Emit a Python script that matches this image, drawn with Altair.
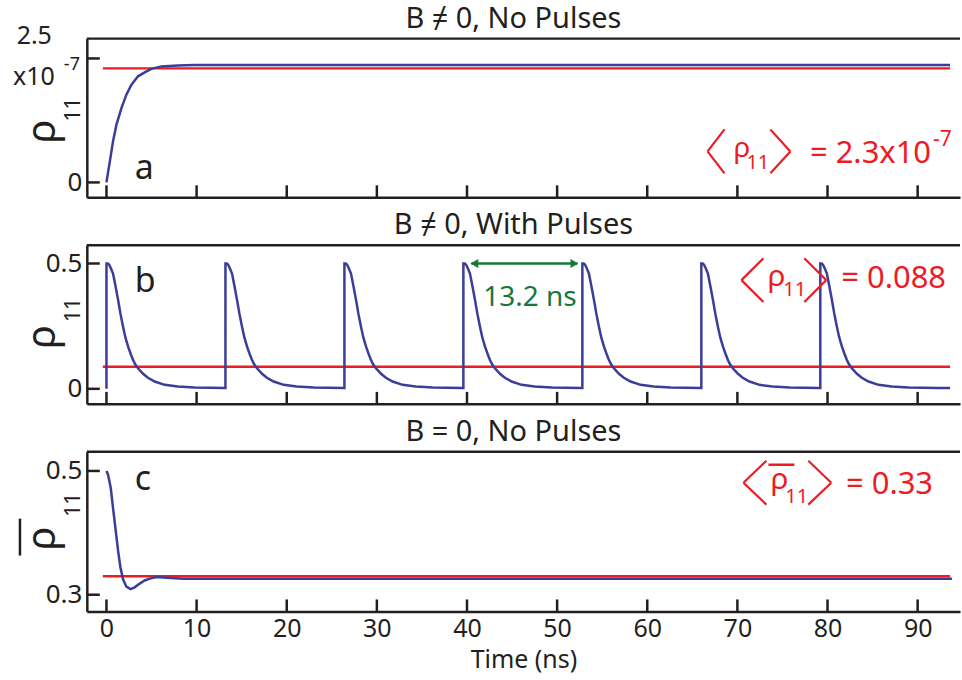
import altair as alt
import pandas as pd

FONT = "Noto Sans"
BLUE = "#3b3d98"
RED = "#ed1c24"
GREEN = "#16773a"
INK = "#231f20"

# plot-area geometry of the three stacked panels
W = 875
H_A, H_B, H_C = 159, 159, 160
GAP = 48
X_MIN, X_MAX = -2.18, 94.7

time_ticks = [0, 10, 20, 30, 40, 50, 60, 70, 80, 90]

# Panel a: B != 0, no pulses (rho_11 in units of 1e-7)
t_a = [0, 0.18, 0.37, 0.73, 1.1, 1.66, 2.21, 2.77, 3.5, 4.24, 4.98, 6.09, 7.9, 9.8, 93.6]
rho_a = [0, 0.21, 0.42, 0.83, 1.16, 1.50, 1.77, 1.97, 2.14, 2.22, 2.29, 2.34, 2.36, 2.37, 2.37]
mean_a = 2.3

# Panel b: B != 0, with pulses -- one decay after every pulse
pulse_starts = [0, 13.2, 26.4, 39.6, 52.8, 66.0, 79.2]
decay_dt = [0, 0.15, 0.3, 0.5, 0.73, 1.0, 1.29, 1.55, 1.84, 2.1, 2.4, 2.7, 2.95, 3.2, 3.5,
            4.06, 4.6, 5.35, 6.46, 7.9, 9.8, 13.1]
decay_rho = [0.5, 0.5, 0.495, 0.48, 0.46, 0.41, 0.354, 0.30, 0.248, 0.205, 0.168, 0.138,
             0.115, 0.097, 0.082, 0.060, 0.044, 0.029, 0.016, 0.009, 0.005, 0.003]
t_end_b = 93.6
mean_b = 0.088

# Panel c: B = 0, no pulses (time-averaged rho_11)
t_c = [0, 0.18, 0.48, 0.73, 1.03, 1.29, 1.55, 1.84, 2.21, 2.66, 3.13, 3.69, 4.24, 4.8,
       5.54, 6.64, 8.5, 93.8]
rho_c = [0.5, 0.494, 0.472, 0.440, 0.403, 0.371, 0.344, 0.325, 0.313, 0.309, 0.312, 0.318,
         0.323, 0.326, 0.3285, 0.3275, 0.326, 0.326]
mean_c = 0.33

mean_span = [-0.4, 93.6]

y_dom_a = [-0.30, 2.90]
y_dom_b = [-0.06, 0.573]
y_dom_c = [0.273, 0.531]


def pulse_train():
    rows = []
    last = len(pulse_starts) - 1
    for i, s in enumerate(pulse_starts):
        nxt = pulse_starts[i + 1] if i < last else t_end_b
        rows.append((s, 0.0 if i == 0 else decay_rho[-1]))
        for dt, v in zip(decay_dt, decay_rho):
            if s + dt < nxt:
                rows.append((s + dt, v))
        if i == last:
            rows.append((t_end_b, decay_rho[-1]))
    return pd.DataFrame({"t": [r[0] for r in rows], "rho": [r[1] for r in rows],
                         "i": list(range(len(rows)))})


def series(ts, vs):
    return pd.DataFrame({"t": ts, "rho": vs, "i": list(range(len(ts)))})


ONE = pd.DataFrame({"k": [0]})


def txt(s, x, y, size, color=INK, align="left", baseline="alphabetic", angle=0,
        font=FONT, weight="normal"):
    return alt.Chart(ONE).mark_text(
        text=s, fontSize=size, color=color, align=align, baseline=baseline,
        angle=angle, font=font, fontWeight=weight,
    ).encode(x=alt.value(x), y=alt.value(y))


def stroke(x1, y1, x2, y2, color=RED, width=2.2):
    return alt.Chart(ONE).mark_rule(color=color, strokeWidth=width).encode(
        x=alt.value(x1), y=alt.value(y1), x2=alt.value(x2), y2=alt.value(y2))


def angle_brackets(left_tip, left_arm, right_arm, right_tip, yc, half=22):
    """Thin angle brackets around the averaged quantity."""
    return [stroke(left_arm, yc - half, left_tip, yc), stroke(left_tip, yc, left_arm, yc + half),
            stroke(right_arm, yc - half, right_tip, yc), stroke(right_tip, yc, right_arm, yc + half)]


def panel(line_df, mean, y_dom, y_ticks, y_labels, h, title, show_time, extras):
    if show_time:
        x_axis = alt.Axis(values=time_ticks, ticks=False, grid=False, title="Time (ns)",
                          labelFontSize=25, labelFont=FONT, labelColor=INK, labelPadding=5,
                          labelFlush=False, titleFontSize=25, titleFont=FONT,
                          titleFontWeight="normal", titleColor=INK, titlePadding=6,
                          domainColor=INK, domainWidth=2.5)
    else:
        x_axis = alt.Axis(labels=False, ticks=False, grid=False, title=None,
                          domainColor=INK, domainWidth=2.5)
    y_axis = alt.Axis(values=y_labels, ticks=False, grid=False, title=None, format="~g",
                      labelFontSize=26, labelFont=FONT, labelColor=INK, labelPadding=5,
                      labelFlush=False, labelOverlap=False,
                      domainColor=INK, domainWidth=2.5)
    x_enc = alt.X("t:Q", scale=alt.Scale(domain=[X_MIN, X_MAX], nice=False, zero=False),
                  axis=x_axis)
    y_enc = alt.Y("rho:Q", scale=alt.Scale(domain=y_dom, nice=False, zero=False),
                  axis=y_axis)

    curve = alt.Chart(line_df).mark_line(color=BLUE, strokeWidth=2.5).encode(
        x=x_enc, y=y_enc, order="i:Q")
    mean_df = pd.DataFrame({"t": [mean_span[0]], "t2": [mean_span[1]], "rho": [mean]})
    mean_line = alt.Chart(mean_df).mark_rule(color=RED, strokeWidth=2.5).encode(
        x=x_enc, x2="t2:Q", y=y_enc)
    x_tick_marks = alt.Chart(pd.DataFrame({"t": time_ticks})).mark_rule(
        color=INK, strokeWidth=2.5).encode(x=x_enc, y=alt.value(h), y2=alt.value(h - 12))
    y_tick_marks = alt.Chart(pd.DataFrame({"rho": y_ticks})).mark_rule(
        color=INK, strokeWidth=2.5).encode(y=y_enc, x=alt.value(0), x2=alt.value(13))
    top_edge = alt.Chart(ONE).mark_rule(color=INK, strokeWidth=2.5).encode(
        x=alt.value(0), x2=alt.value(W), y=alt.value(0))
    heading = txt(title, W / 2 - 10, -11, 29, align="center")

    return alt.layer(x_tick_marks, y_tick_marks, top_edge, mean_line, curve, heading,
                     *extras).properties(width=W, height=h)


def rho_label(y_rho, y_sub):
    return [txt("ρ", -32, y_rho, 40, angle=270, align="center"),
            txt("11", -7, y_sub, 21, angle=270, align="center")]


# ---- panel a
extras_a = rho_label(93, 71) + [
    txt("2.5", -35, 5, 25, align="right"),
    txt("x10", -74, 46, 25),
    txt("-7", -23, 31, 18),
    txt("a", 48, 141, 34),
    txt("ρ", 648, 119, 28, color=RED),
    txt("11", 661, 131, 20, color=RED),
    txt("= 2.3x10", 846, 125, 31, color=RED, align="right"),
    txt("-7", 848, 108, 21, color=RED),
] + angle_brackets(622, 639, 685, 705, 113)
panel_a = panel(series(t_a, rho_a), mean_a, y_dom_a, [0, 2.5], [0], H_A,
                "B ≠ 0, No Pulses", False, extras_a)

# ---- panel b
arrow_df = pd.DataFrame({"t": [pulse_starts[3]], "t2": [pulse_starts[4]], "rho": [0.5]})
arrow_line = alt.Chart(arrow_df).mark_rule(
    color=GREEN, strokeWidth=2.5, xOffset=8, x2Offset=-5).encode(
    x=alt.X("t:Q"), x2="t2:Q", y=alt.Y("rho:Q"))
head_l = alt.Chart(arrow_df).mark_point(shape="triangle-left", filled=True, color=GREEN,
                                        size=80, opacity=1, xOffset=11).encode(
    x=alt.X("t:Q"), y=alt.Y("rho:Q"))
head_r = alt.Chart(arrow_df).mark_point(shape="triangle-right", filled=True, color=GREEN,
                                        size=80, opacity=1, xOffset=-8).encode(
    x=alt.X("t2:Q"), y=alt.Y("rho:Q"))
period_df = pd.DataFrame({"t": [(pulse_starts[3] + pulse_starts[4]) / 2],
                          "lab": [f"{pulse_starts[4] - pulse_starts[3]:.1f} ns"]})
period_text = alt.Chart(period_df).mark_text(fontSize=28, font=FONT, color=GREEN,
                                             align="center", dx=7).encode(
    x=alt.X("t:Q"), y=alt.value(53), text="lab:N")

extras_b = rho_label(92, 65) + [
    txt("b", 48, 47, 34),
    arrow_line, head_l, head_r, period_text,
    txt("ρ", 682, 41, 30, color=RED),
    txt("11", 698, 51, 20, color=RED),
    txt("= 0.088", 861, 43, 31, color=RED, align="right"),
] + angle_brackets(656, 678, 719, 741, 35)
panel_b = panel(pulse_train(), mean_b, y_dom_b, [0, 0.5], [0, 0.5], H_B,
                "B ≠ 0, With Pulses", False, extras_b)

# ---- panel c
extras_c = rho_label(87, 53) + [
    stroke(-67, 67, -67, 104, color=INK, width=2.5),
    txt("c", 48, 38, 34),
    stroke(683, 13, 709, 13, width=2.5),
    txt("ρ", 685, 37, 30, color=RED),
    txt("11", 700, 51, 20, color=RED),
    txt("= 0.33", 848, 42, 31, color=RED, align="right"),
] + angle_brackets(658, 681, 723, 746, 31)
panel_c = panel(series(t_c, rho_c), mean_c, y_dom_c, [0.3, 0.5], [0.3, 0.5], H_C,
                "B = 0, No Pulses", True, extras_c)

chart = (
    alt.vconcat(panel_a, panel_b, panel_c, spacing=GAP, bounds="flush")
    .properties(padding={"left": 13, "top": 4, "right": 0, "bottom": 6},
                background="white")
    .configure_view(stroke=None)
)

chart.save("out.html", embed_options={"renderer": "svg", "actions": False})
